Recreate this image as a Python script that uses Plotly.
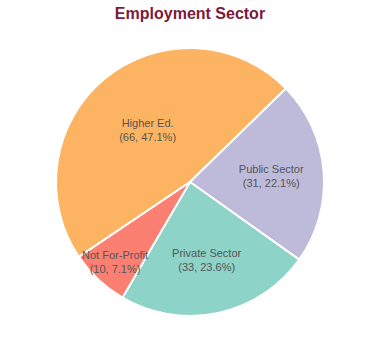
import plotly.graph_objects as go

labels = ["Higher Ed.", "Public Sector", "Private Sector", "Not For-Profit"]
values = [66, 31, 33, 10]
colors = ["#FDB462", "#BEBADA", "#8DD3C7", "#FB8072"]

total = sum(values)
texts = [f"{l}<br>({v}, {v/total*100:.1f}%)" for l, v in zip(labels, values)]

fig = go.Figure(go.Pie(
    labels=labels,
    values=values,
    text=texts,
    textinfo="text",
    textposition="inside",
    insidetextorientation="horizontal",
    sort=False,
    direction="clockwise",
    rotation=236,
    marker=dict(colors=colors, line=dict(color="white", width=2)),
    textfont=dict(family="Liberation Sans, Arial", size=11, color="#555555"),
    hoverinfo="label+value+percent",
    showlegend=False,
))

fig.update_layout(
    width=380, height=360,
    margin=dict(l=56, r=56, t=48, b=44),
    paper_bgcolor="white",
    uniformtext=dict(minsize=11, mode="show"),
    title=dict(text="<b>Employment Sector</b>", x=0.5, xanchor="center", y=0.964, yanchor="middle",
               font=dict(family="Liberation Sans, Arial", size=16, color="#7B1A3A")),
)

fig.write_html("out.html", config={"displayModeBar": False},
               post_script="document.body.style.margin='0';")
